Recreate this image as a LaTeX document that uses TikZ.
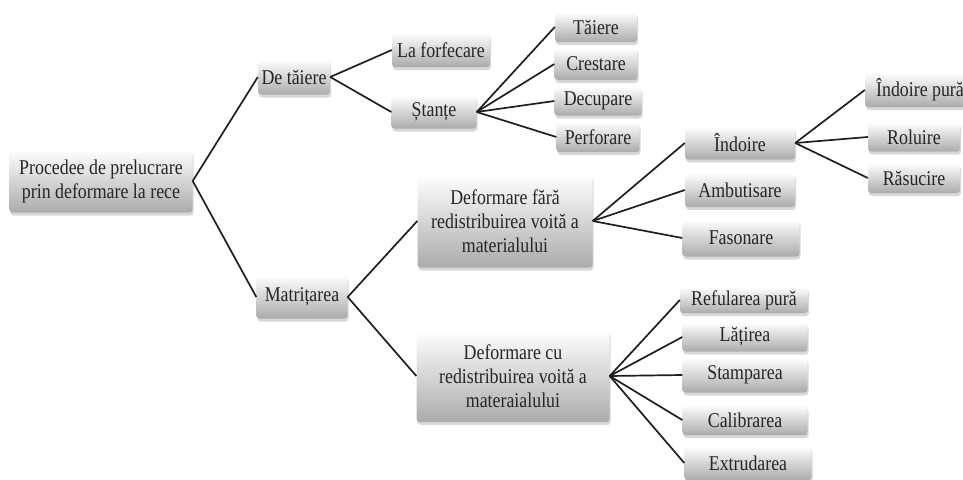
\documentclass[tikz,border=0pt]{standalone}
\usepackage{fontspec}
\setmainfont{Liberation Serif}[FakeStretch=0.85]
\usetikzlibrary{shadows}
\begin{document}
\begin{tikzpicture}[x=1pt,y=-1pt,
  box/.style={rounded corners=3pt, top color=white, bottom color=black!33,
    drop shadow={shadow xshift=1pt, shadow yshift=-3pt, opacity=0.3},
    inner sep=0pt, align=center, font=\fontsize{21}{24}\selectfont, text=black!85},
  link/.style={line width=1.7pt, draw=black!88}]
\useasboundingbox (0,0) rectangle (963,479);
\fill[white] (0,0) rectangle (963,479);

\node[box, minimum width=183pt, minimum height=63pt] (root) at (101,181) {Procedee de prelucrare\\prin deformare la rece};
\node[box, minimum width=72pt, minimum height=35pt] (det) at (294,77) {De tăiere};
\node[box, minimum width=98pt, minimum height=34pt] (forf) at (441,50) {La forfecare};
\node[box, minimum width=85pt, minimum height=33pt] (stante) at (434,112) {Ștanțe};
\node[box, minimum width=82pt, minimum height=30pt] (taiere) at (596,27) {Tăiere};
\node[box, minimum width=83pt, minimum height=32pt] (crest) at (596,64) {Crestare};
\node[box, minimum width=87pt, minimum height=29pt] (decup) at (598,101) {Decupare};
\node[box, minimum width=83pt, minimum height=30pt] (perf) at (598,137) {Perforare};

\node[box, minimum width=91pt, minimum height=43pt] (matr) at (302,297) {Matrițarea};
\node[box, minimum width=175pt, minimum height=93pt] (dfara) at (505,221) {Deformare fără\\redistribuirea voită a\\materialului};
\node[box, minimum width=110pt, minimum height=33pt] (indoire) at (740,143) {Îndoire};
\node[box, minimum width=110pt, minimum height=34pt] (ambut) at (740,190) {Ambutisare};
\node[box, minimum width=117pt, minimum height=37pt] (fason) at (741,238) {Fasonare};
\node[box, minimum width=110pt, minimum height=34pt] (ipura) at (920,90) {Îndoire pură};
\node[box, minimum width=92pt, minimum height=29pt] (rol) at (914,137) {Roluire};
\node[box, minimum width=92pt, minimum height=30pt] (rasuc) at (914,178) {Răsucire};

\node[box, minimum width=193pt, minimum height=92pt] (dcu) at (513,376) {Deformare cu\\redistribuirea voită a\\materaialului};
\node[box, minimum width=128pt, minimum height=26pt] (refu) at (744,300) {Refularea pură};
\node[box, minimum width=125pt, minimum height=29pt] (lat) at (745,337) {Lățirea};
\node[box, minimum width=125pt, minimum height=35pt] (stamp) at (745,375) {Stamparea};
\node[box, minimum width=125pt, minimum height=30pt] (calib) at (745,420) {Calibrarea};
\node[box, minimum width=127pt, minimum height=34pt] (extr) at (748,463) {Extrudarea};

\foreach \a/\b in {root/det, root/matr, det/forf, det/stante,
  stante/taiere, stante/crest, stante/decup, stante/perf,
  matr/dfara, matr/dcu, dfara/indoire, dfara/ambut, dfara/fason,
  indoire/ipura, indoire/rol, indoire/rasuc,
  dcu/refu, dcu/lat, dcu/stamp, dcu/calib, dcu/extr}
  \draw[link] (\a.east) -- (\b.west);
\end{tikzpicture}
\end{document}
